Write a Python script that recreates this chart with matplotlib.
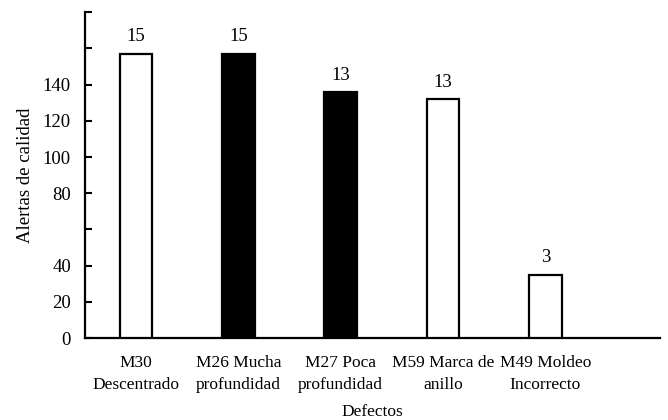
import matplotlib
matplotlib.use("Agg")
import matplotlib.pyplot as plt

categories = ["M30\nDescentrado", "M26 Mucha\nprofundidad", "M27 Poca\nprofundidad",
              "M59 Marca de\nanillo", "M49 Moldeo\nIncorrecto"]
values = [157, 157, 136, 132, 35]
value_labels = ["15", "15", "13", "13", "3"]
fill_colors = ["white", "black", "black", "white", "white"]
ytick_values = [0, 20, 40, 60, 80, 100, 120, 140, 160, 180]
ytick_labels = ["0", "20", "40", "", "80", "100", "120", "140", "", ""]

plt.rcParams["font.family"] = ["Liberation Serif", "DejaVu Serif"]

fig = plt.figure(figsize=(6.68, 4.2), dpi=100)
ax = fig.add_axes([0.127, 0.195, 0.861, 0.776])

x = list(range(len(categories)))
bars = ax.bar(x, values, width=0.32, color=fill_colors, edgecolor="black", linewidth=1.6, zorder=3)
for xi, v, lab in zip(x, values, value_labels):
    ax.annotate(lab, (xi, v), xytext=(0, 6), textcoords="offset points",
                ha="center", va="bottom", fontsize=13.5)

ax.set_xlim(-0.5, 5.12)
ax.set_ylim(0, 180)
ax.set_yticks(ytick_values)
ax.set_yticklabels(ytick_labels, fontsize=13.5)
ax.set_xticks(x)
ax.set_xticklabels(categories, fontsize=12.5, linespacing=1.45)
ax.tick_params(axis="x", length=0, pad=12.5)
ax.tick_params(axis="y", direction="in", length=5, width=1.5, pad=10)

for s in ["top", "right"]:
    ax.spines[s].set_visible(False)
ax.spines["left"].set_linewidth(1.6)
ax.spines["bottom"].set_linewidth(1.6)

ax.set_ylabel("Alertas de calidad", fontsize=13.5, labelpad=6)
ax.set_xlabel("Defectos", fontsize=12.5, labelpad=8)

fig.savefig("out.png", dpi=100)
